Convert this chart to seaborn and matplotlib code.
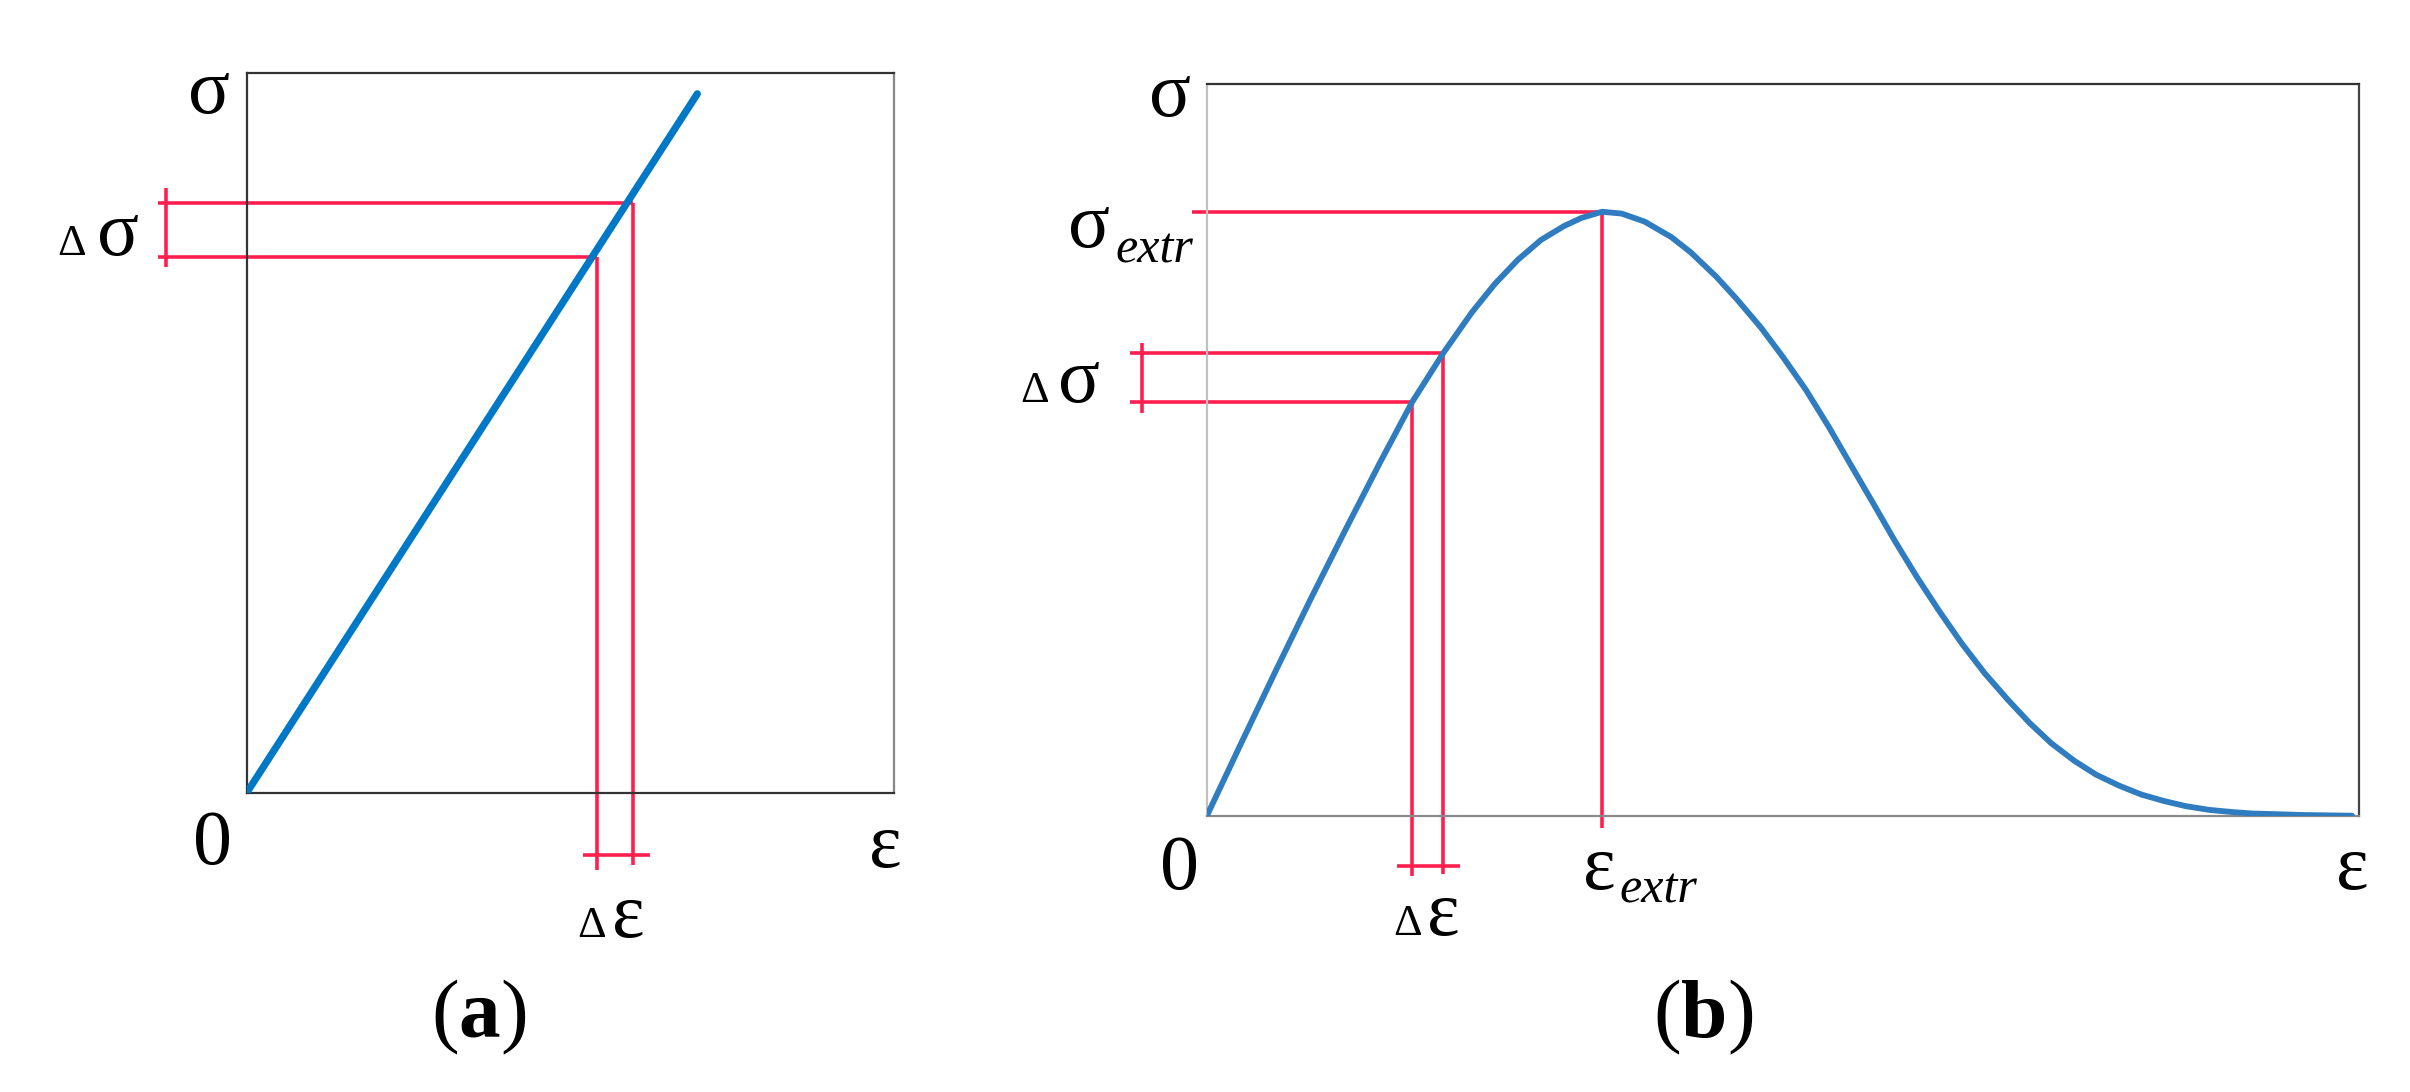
import numpy as np
import pandas as pd
import seaborn as sns
import matplotlib.pyplot as plt

# panel (a): straight line
lin_eps = [0.0, 0.696]
lin_sig = [0.0, 0.971]
a_sig_levels = [0.744, 0.819]
a_eps_levels = [0.541, 0.596]

# panel (b): curve
curve_eps = [0.000, 0.030, 0.060, 0.090, 0.120, 0.150, 0.178, 0.205, 0.230, 0.250, 0.270, 0.290,
             0.310, 0.325, 0.343, 0.360, 0.380, 0.403, 0.420, 0.442, 0.460, 0.481, 0.500,
             0.520, 0.540, 0.558, 0.578, 0.597, 0.616, 0.636, 0.655, 0.675, 0.695, 0.714,
             0.733, 0.753, 0.772, 0.792, 0.811, 0.831, 0.850, 0.870, 0.890, 0.908, 0.930,
             0.950, 0.994]
curve_sig = [0.000, 0.100, 0.199, 0.296, 0.390, 0.482, 0.565, 0.632, 0.688, 0.727, 0.760, 0.787,
             0.806, 0.817, 0.8255, 0.823, 0.812, 0.791, 0.770, 0.737, 0.706, 0.667, 0.627,
             0.582, 0.531, 0.482, 0.428, 0.376, 0.327, 0.279, 0.236, 0.195, 0.159, 0.127,
             0.099, 0.075, 0.056, 0.041, 0.029, 0.020, 0.013, 0.008, 0.005, 0.003, 0.002,
             0.001, 0.000]
b_sig_levels = [0.5654, 0.6324]
b_eps_levels = [0.1777, 0.2045]
sig_extr = 0.8255
eps_extr = 0.3426

sns.set_style("white")
plt.rcParams['font.family'] = ['Liberation Serif', 'DejaVu Serif']
plt.rcParams['text.color'] = 'black'
plt.rcParams['mathtext.fontset'] = 'custom'
plt.rcParams['mathtext.rm'] = 'Liberation Serif'
plt.rcParams['mathtext.bf'] = 'Liberation Serif:bold'
plt.rcParams['mathtext.it'] = 'Liberation Serif:italic'

RED = "#ff1f4f"
fig = plt.figure(figsize=(24.1, 10.92), dpi=100)
ax1 = fig.add_axes([0.1024, 0.2741, 0.2686, 0.6591])
ax2 = fig.add_axes([0.5008, 0.2530, 0.4780, 0.6700])

for ax in (ax1, ax2):
    ax.set_xlim(0, 1)
    ax.set_ylim(0, 1)
    ax.set_xticks([])
    ax.set_yticks([])
    for s in ax.spines.values():
        s.set_visible(True)
        s.set_linewidth(1.6)

for k, c in zip(['top', 'left', 'bottom', 'right'], ['#333333', '#333333', '#333333', '#888888']):
    ax1.spines[k].set_color(c)
for k, c in zip(['top', 'left', 'bottom', 'right'], ['#333333', '#c0c0c0', '#8a8a8a', '#444444']):
    ax2.spines[k].set_color(c)

rl = dict(color=RED, lw=2.6, clip_on=False, solid_capstyle='butt')

big = 56
small = 32
sub = 36

# ---- panel (a)
df_a = pd.DataFrame({'eps': lin_eps, 'sig': lin_sig})
sns.lineplot(data=df_a, x='eps', y='sig', ax=ax1, color='#0078c8', lw=5.2, zorder=3)
lo, hi = a_sig_levels
e_lo, e_hi = a_eps_levels
ax1.plot([-0.137, e_lo], [lo, lo], **rl)
ax1.plot([-0.137, e_hi], [hi, hi], **rl)
ax1.plot([-0.125, -0.125], [0.73, 0.84], **rl)
ax1.plot([e_lo, e_lo], [lo, -0.107], **rl)
ax1.plot([e_hi, e_hi], [hi, -0.100], **rl)
ax1.plot([0.52, 0.623], [-0.086, -0.086], **rl)
ax1.set_xlabel('')
ax1.set_ylabel('')

ax1.text(-0.058, 0.970, 'σ', fontsize=big, ha='center', va='center')
ax1.text(-0.270, 0.747, 'Δ', fontsize=small, ha='center', va='baseline')
ax1.text(-0.199, 0.747, 'σ', fontsize=big, ha='center', va='baseline')
ax1.text(-0.053, -0.073, '0', fontsize=big, ha='center', va='center')
ax1.text(0.986, -0.077, 'ε', fontsize=big, ha='center', va='center')
ax1.text(0.532, -0.200, 'Δ', fontsize=small, ha='center', va='baseline')
ax1.text(0.590, -0.200, 'ε', fontsize=big, ha='center', va='baseline')
ax1.text(0.359, -0.312, r'($\mathbf{a}$)', fontsize=60, ha='center', va='center')

# ---- panel (b)
df_b = pd.DataFrame({'eps': curve_eps, 'sig': curve_sig})
sns.lineplot(data=df_b, x='eps', y='sig', ax=ax2, color='#2f7dc0', lw=4.2, zorder=3, sort=False)
lo, hi = b_sig_levels
e_lo, e_hi = b_eps_levels
ax2.plot([-0.0126, eps_extr], [sig_extr, sig_extr], **rl)
ax2.plot([eps_extr, eps_extr], [sig_extr, -0.0168], **rl)
ax2.plot([-0.0668, e_lo], [lo, lo], **rl)
ax2.plot([-0.0668, e_hi], [hi, hi], **rl)
ax2.plot([-0.0564, -0.0564], [0.550, 0.646], **rl)
ax2.plot([e_lo, e_lo], [lo, -0.0824], **rl)
ax2.plot([e_hi, e_hi], [hi, -0.0797], **rl)
ax2.plot([0.165, 0.2196], [-0.0687, -0.0687], **rl)
ax2.set_xlabel('')
ax2.set_ylabel('')

ax2.text(-0.032, 0.982, 'σ', fontsize=big, ha='center', va='center')
ax2.text(-0.102, 0.803, 'σ', fontsize=big, ha='center', va='center')
ax2.text(-0.079, 0.773, 'extr', fontsize=sub, style='italic', ha='left', va='center')
ax2.text(-0.150, 0.566, 'Δ', fontsize=small, ha='center', va='baseline')
ax2.text(-0.111, 0.566, 'σ', fontsize=big, ha='center', va='baseline')
ax2.text(-0.024, -0.074, '0', fontsize=big, ha='center', va='center')
ax2.text(0.994, -0.074, 'ε', fontsize=big, ha='center', va='center')
ax2.text(0.341, -0.074, 'ε', fontsize=big, ha='center', va='center')
ax2.text(0.358, -0.102, 'extr', fontsize=sub, style='italic', ha='left', va='center')
ax2.text(0.174, -0.163, 'Δ', fontsize=small, ha='center', va='baseline')
ax2.text(0.205, -0.163, 'ε', fontsize=big, ha='center', va='baseline')
ax2.text(0.431, -0.275, r'($\mathbf{b}$)', fontsize=60, ha='center', va='center')

fig.savefig('out.png', dpi=100)
